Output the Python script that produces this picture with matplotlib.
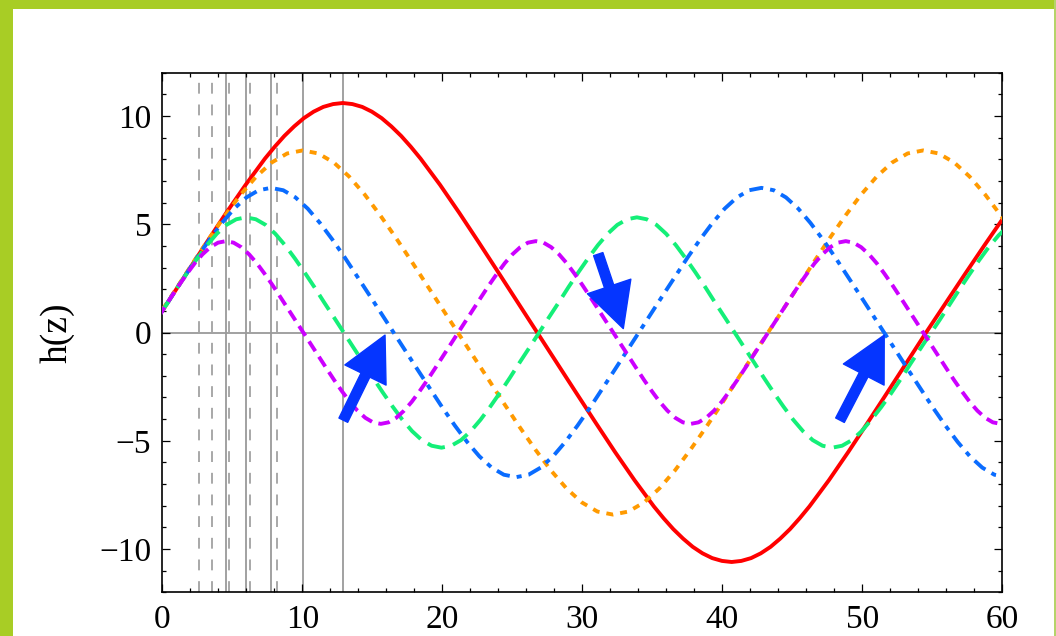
"""
h(z) oscillation curves with marker lines and arrows, slide style.
"""

import matplotlib
matplotlib.use("Agg")
import matplotlib.pyplot as plt
from matplotlib.patches import Rectangle
from matplotlib.ticker import MultipleLocator

plt.rcParams['font.family'] = ['Liberation Serif', 'DejaVu Serif']

# ---- data ----
red_z = [-1.00, 0.39, 1.78, 3.17, 4.56, 5.95, 7.33, 8.03, 8.72, 9.42, 10.11, 10.81, 11.50, 12.20, 12.89,
         13.58, 14.28, 14.97, 15.67, 16.36, 17.06, 17.75, 18.45, 19.84, 21.22, 22.61, 24.00, 25.39, 26.78,
         28.17, 29.56, 30.95, 32.34, 33.73, 35.11, 35.81, 36.50, 37.20, 37.89, 38.59, 39.28, 39.98, 40.67,
         41.36, 42.06, 42.75, 43.45, 44.14, 44.84, 45.53, 46.23, 47.62, 49.00, 50.39, 51.78, 53.17, 54.56,
         55.95, 57.34, 58.73, 60.12]
red_h = [0.00, 1.39, 2.78, 4.16, 5.52, 6.82, 8.03, 8.58, 9.08, 9.52, 9.90, 10.20, 10.42, 10.55, 10.60,
         10.55, 10.42, 10.20, 9.90, 9.52, 9.08, 8.58, 8.03, 6.82, 5.52, 4.16, 2.78, 1.39, 0.00,
         -1.39, -2.78, -4.16, -5.52, -6.82, -8.03, -8.58, -9.08, -9.52, -9.90, -10.20, -10.42, -10.55, -10.60,
         -10.55, -10.42, -10.20, -9.90, -9.52, -9.08, -8.58, -8.03, -6.82, -5.52, -4.16, -2.78, -1.39, 0.00,
         1.35, 2.70, 4.03, 5.33]

orange_z = [-1.05, 0.06, 1.17, 2.27, 3.38, 4.49, 5.60, 6.71, 7.81, 8.92, 10.03,
            11.14, 12.25, 13.35, 14.46, 15.57, 16.68, 17.79, 18.89, 20.00, 21.11,
            22.22, 23.33, 24.43, 25.54, 26.65, 27.76, 28.87, 29.97, 31.08, 32.19,
            33.30, 34.41, 35.51, 36.62, 37.73, 38.84, 39.95, 41.05, 42.16, 43.27,
            44.38, 45.49, 46.59, 47.70, 48.81, 49.92, 51.03, 52.13, 53.24, 54.35,
            55.46, 56.57, 57.67, 58.78, 59.89, 61.00]
orange_h = [0.00, 1.10, 2.20, 3.30, 4.38, 5.41, 6.37, 7.20, 7.85, 8.27, 8.41,
            8.27, 7.85, 7.20, 6.37, 5.41, 4.38, 3.30, 2.20, 1.10, 0.00,
            -1.10, -2.20, -3.30, -4.38, -5.41, -6.37, -7.20, -7.85, -8.27, -8.41,
            -8.27, -7.85, -7.20, -6.37, -5.41, -4.38, -3.30, -2.20, -1.10, 0.00,
            1.10, 2.20, 3.30, 4.38, 5.41, 6.37, 7.20, 7.85, 8.27, 8.41,
            8.27, 7.85, 7.20, 6.37, 5.41, 4.38]

blue_z = [-1.00, -0.12, 0.75, 1.63, 2.50, 3.38, 4.26, 5.13, 6.01, 6.88, 7.76,
          8.64, 9.51, 10.39, 11.26, 12.14, 13.02, 13.89, 14.77, 15.64, 16.52,
          17.40, 18.27, 19.15, 20.02, 20.90, 21.78, 22.65, 23.53, 24.40, 25.28,
          26.16, 27.03, 27.91, 28.78, 29.66, 30.54, 31.41, 32.29, 33.16, 34.04,
          34.92, 35.79, 36.67, 37.54, 38.42, 39.30, 40.17, 41.05, 41.92, 42.80,
          43.68, 44.55, 45.43, 46.30, 47.18, 48.06, 48.93, 49.81, 50.68, 51.56,
          52.44, 53.31, 54.19, 55.06, 55.94, 56.82, 57.69, 58.57, 59.44, 60.32]
blue_h = [0.00, 0.88, 1.75, 2.62, 3.48, 4.30, 5.06, 5.72, 6.24, 6.57, 6.68,
          6.57, 6.24, 5.72, 5.06, 4.30, 3.48, 2.62, 1.75, 0.88, 0.00,
          -0.88, -1.75, -2.62, -3.48, -4.30, -5.06, -5.72, -6.24, -6.57, -6.68,
          -6.57, -6.24, -5.72, -5.06, -4.30, -3.48, -2.62, -1.75, -0.88, 0.00,
          0.88, 1.75, 2.62, 3.48, 4.30, 5.06, 5.72, 6.24, 6.57, 6.68,
          6.57, 6.24, 5.72, 5.06, 4.30, 3.48, 2.62, 1.75, 0.88, 0.00,
          -0.88, -1.75, -2.62, -3.48, -4.30, -5.06, -5.72, -6.24, -6.57, -6.68]

green_z = [-1.00, -0.30, 0.40, 1.09, 1.79, 2.49, 3.19, 3.89, 4.58, 5.28, 5.98,
           6.68, 7.38, 8.07, 8.77, 9.47, 10.17, 10.87, 11.56, 12.26, 12.96,
           13.66, 14.36, 15.05, 15.75, 16.45, 17.15, 17.85, 18.54, 19.24, 19.94,
           20.64, 21.34, 22.03, 22.73, 23.43, 24.13, 24.83, 25.52, 26.22, 26.92,
           27.62, 28.32, 29.01, 29.71, 30.41, 31.11, 31.81, 32.50, 33.20, 33.90,
           34.60, 35.30, 35.99, 36.69, 37.39, 38.09, 38.79, 39.48, 40.18, 40.88,
           41.58, 42.28, 42.97, 43.67, 44.37, 45.07, 45.77, 46.46, 47.16, 47.86,
           48.56, 49.26, 49.95, 50.65, 51.35, 52.05, 52.75, 53.44, 54.14, 54.84,
           55.54, 56.24, 56.93, 57.63, 58.33, 59.03, 59.73, 60.42]
green_h = [0.00, 0.70, 1.39, 2.09, 2.77, 3.42, 4.03, 4.56, 4.97, 5.23, 5.32,
           5.23, 4.97, 4.56, 4.03, 3.42, 2.77, 2.09, 1.39, 0.70, 0.00,
           -0.70, -1.39, -2.09, -2.77, -3.42, -4.03, -4.56, -4.97, -5.23, -5.32,
           -5.23, -4.97, -4.56, -4.03, -3.42, -2.77, -2.09, -1.39, -0.70, 0.00,
           0.70, 1.39, 2.09, 2.77, 3.42, 4.03, 4.56, 4.97, 5.23, 5.32,
           5.23, 4.97, 4.56, 4.03, 3.42, 2.77, 2.09, 1.39, 0.70, 0.00,
           -0.70, -1.39, -2.09, -2.77, -3.42, -4.03, -4.56, -4.97, -5.23, -5.32,
           -5.23, -4.97, -4.56, -4.03, -3.45, -2.82, -2.15, -1.45, -0.76, -0.08,
           0.59, 1.29, 1.98, 2.66, 3.32, 3.94, 4.48, 4.91]

purple_z = [-1.00, -0.45, 0.11, 0.66, 1.21, 1.77, 2.32, 2.87, 3.43, 3.98, 4.54,
            5.09, 5.64, 6.20, 6.75, 7.30, 7.86, 8.41, 8.96, 9.52, 10.07,
            10.62, 11.18, 11.73, 12.28, 12.84, 13.39, 13.94, 14.50, 15.05, 15.61,
            16.16, 16.71, 17.27, 17.82, 18.37, 18.93, 19.48, 20.03, 20.59, 21.14,
            21.69, 22.25, 22.80, 23.35, 23.91, 24.46, 25.01, 25.57, 26.12, 26.68,
            27.23, 27.78, 28.34, 28.89, 29.44, 30.00, 30.55, 31.10, 31.66, 32.21,
            32.76, 33.32, 33.87, 34.42, 34.98, 35.53, 36.08, 36.64, 37.19, 37.75,
            38.30, 38.85, 39.41, 39.96, 40.51, 41.07, 41.62, 42.17, 42.73, 43.28,
            43.83, 44.39, 44.94, 45.49, 46.05, 46.60, 47.15, 47.71, 48.26, 48.82,
            49.37, 49.92, 50.48, 51.03, 51.58, 52.14, 52.69, 53.24, 53.80, 54.35,
            54.90, 55.46, 56.01, 56.56, 57.12, 57.67, 58.22, 58.78, 59.33, 59.89,
            60.44]
purple_h = [0.00, 0.55, 1.11, 1.66, 2.20, 2.72, 3.20, 3.61, 3.94, 4.15, 4.22,
            4.15, 3.94, 3.61, 3.20, 2.72, 2.20, 1.66, 1.11, 0.55, 0.00,
            -0.55, -1.11, -1.66, -2.20, -2.72, -3.20, -3.61, -3.94, -4.15, -4.22,
            -4.15, -3.94, -3.61, -3.20, -2.72, -2.20, -1.66, -1.11, -0.55, 0.00,
            0.55, 1.11, 1.66, 2.20, 2.72, 3.20, 3.61, 3.94, 4.15, 4.22,
            4.15, 3.94, 3.61, 3.20, 2.72, 2.20, 1.66, 1.11, 0.55, 0.00,
            -0.55, -1.11, -1.66, -2.20, -2.72, -3.20, -3.61, -3.94, -4.15, -4.22,
            -4.15, -3.94, -3.61, -3.20, -2.72, -2.20, -1.66, -1.11, -0.55, 0.00,
            0.55, 1.11, 1.66, 2.20, 2.72, 3.20, 3.61, 3.94, 4.15, 4.22,
            4.15, 3.94, 3.61, 3.20, 2.72, 2.20, 1.66, 1.11, 0.55, 0.00,
            -0.55, -1.11, -1.66, -2.20, -2.72, -3.20, -3.61, -3.94, -4.15, -4.22,
            -4.15]

solid_marks = [4.55, 5.98, 7.80, 10.03, 12.89]
dashed_marks = [2.64, 3.57, 4.79, 6.29, 8.16]

arrow_tails = [(12.93, -4.05), (31.14, 3.62), (48.41, -4.05)]
arrow_tips = [(15.91, -0.12), (32.93, 0.18), (51.57, -0.12)]

x_ticks = [0, 10, 20, 30, 40, 50, 60]
y_ticks = [-10, -5, 0, 5, 10]

# ---- figure ----
fig = plt.figure(figsize=(10.56, 6.36), dpi=100)
fig.patch.set_facecolor('white')

# slide border
border = '#a8cd25'
fig.add_artist(Rectangle((0, 0), 13 / 1056, 1, transform=fig.transFigure,
                         facecolor=border, edgecolor='none'))
fig.add_artist(Rectangle((0, 1 - 9 / 636), 1, 9 / 636, transform=fig.transFigure,
                         facecolor=border, edgecolor='none'))
fig.add_artist(Rectangle((1054 / 1056, 0), 1.5 / 1056, 1, transform=fig.transFigure,
                         facecolor='#b5d36a', edgecolor='none'))

ax = fig.add_axes([0.1537, 0.0687, 0.9491 - 0.1537, 0.8857 - 0.0687])

gray = '#9a9a9a'
for x in dashed_marks:
    ax.axvline(x, color=gray, lw=1.2, dashes=(6.5, 6.5), zorder=1)
for x in solid_marks:
    ax.axvline(x, color=gray, lw=1.3, zorder=1)
ax.axhline(0, color=gray, lw=1.3, zorder=1)

lw = 2.8
ax.plot(red_z, red_h, color='#ff0000', lw=lw, solid_joinstyle='round', zorder=3)
ax.plot(orange_z, orange_h, color='#ff9a00', lw=lw, dashes=(1.8, 1.8), zorder=3)
ax.plot(blue_z, blue_h, color='#0a6cff', lw=lw, dashes=(3.6, 1.8, 1.3, 1.8), zorder=3)
ax.plot(green_z, green_h, color='#14ef78', lw=lw, dashes=(4.6, 2.2), zorder=3)
ax.plot(purple_z, purple_h, color='#cc00ff', lw=lw, dashes=(3.0, 1.7), zorder=3)

for tail, tip in zip(arrow_tails, arrow_tips):
    ax.annotate('', xy=tip, xytext=tail,
                arrowprops=dict(arrowstyle='simple,head_length=3.2,head_width=3.3,tail_width=0.7',
                                color='#0535ff', mutation_scale=10,
                                shrinkA=0, shrinkB=0),
                zorder=5)

ax.set_xlim(0, 60)
ax.set_ylim(-12, 12)
ax.set_xticks(x_ticks)
ax.set_yticks(y_ticks)
ax.xaxis.set_minor_locator(MultipleLocator(2))
ax.yaxis.set_minor_locator(MultipleLocator(1))
ax.tick_params(which='both', direction='in', top=True, right=True, width=0.9,
               labelsize=24, color='black')
ax.tick_params(which='major', length=5.5, pad=8)
ax.tick_params(axis='x', which='major', pad=9)
ax.tick_params(which='minor', length=3)
for s in ax.spines.values():
    s.set_linewidth(1.2)

ax.set_ylabel('h(z)', fontsize=27)
ax.yaxis.set_label_coords(-0.104, 0.5)

fig.savefig('out.png', dpi=100, facecolor='white')
